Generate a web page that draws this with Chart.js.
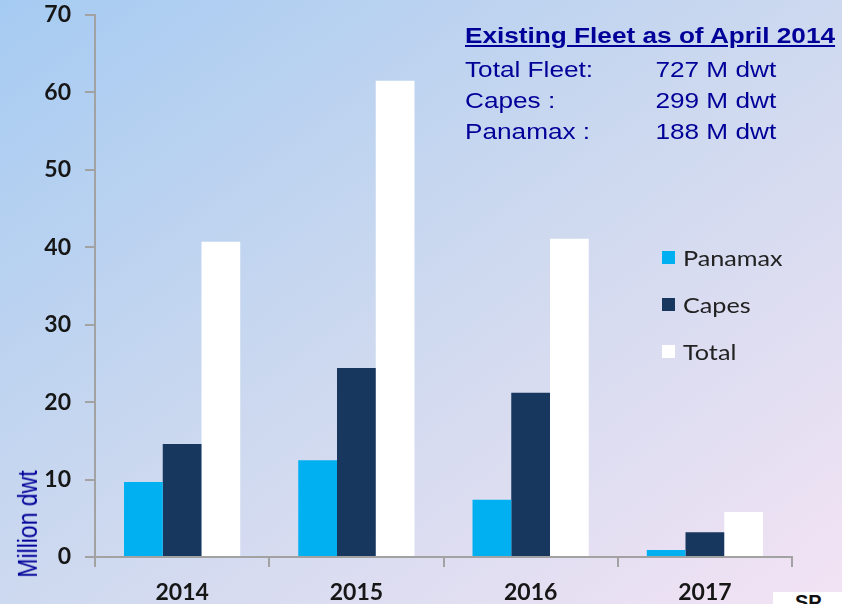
<!DOCTYPE html>
<html>
<head>
<meta charset="utf-8">
<script src="https://cdn.jsdelivr.net/npm/chart.js@4.4.1/dist/chart.umd.min.js"></script>
<style>
  html, body { margin: 0; padding: 0; }
  body {
    width: 842px; height: 604px; overflow: hidden; position: relative;
    background: linear-gradient(to bottom right, #a6cbf2 0%, #cdd9ef 50%, #f3e3f4 100%);
  }
  #wrap { position: absolute; left: 0; top: 0; width: 842px; height: 604px; }
  .note { position: absolute; left: 465px; transform: scaleX(1.19); transform-origin: 0 0;
          font-family: "Liberation Sans", Arial, sans-serif; font-size: 22px; line-height: 31px;
          color: #000099; white-space: nowrap; }
  .note .val { position: absolute; left: 160px; }
  #title { top: 20px; font-weight: bold; text-decoration: underline; }
  #ylabel { position: absolute; left: 28px; top: 524px; width: 0; height: 0; }
  #ylabel div { position: absolute; left: 0; top: 0; transform-origin: 0 0;
                transform: scaleX(1.19) rotate(-90deg) translate(-50%, -50%);
                font-family: "Liberation Sans", Arial, sans-serif; font-size: 23px;
                color: #000099; white-space: nowrap; }
  #legend { position: absolute; left: 662px; top: 234px; }
  #legend .item { height: 47px; display: flex; align-items: center;
                  font-family: Lato, sans-serif; font-size: 21px; color: #222; }
  #legend .box { width: 13px; height: 13px; margin-right: 8px; }
  #legend .txt { transform: scaleX(1.2); transform-origin: 0 50%; white-space: nowrap; }
  #sp { position: absolute; left: 773px; top: 592px; width: 69px; height: 12px; background: #fff;
        overflow: hidden; font-family: "Liberation Sans", Arial, sans-serif; font-weight: bold;
        font-size: 20px; line-height: 20px; color: #111; padding-left: 22px; box-sizing: border-box; }
</style>
</head>
<body>
<div id="wrap"><canvas id="fleet-chart"></canvas></div>

<div class="note" id="title">Existing Fleet as of April 2014</div>
<div class="note" style="top:54px">Total Fleet:<span class="val">727 M dwt</span></div>
<div class="note" style="top:85px">Capes :<span class="val">299 M dwt</span></div>
<div class="note" style="top:116px">Panamax :<span class="val">188 M dwt</span></div>

<div id="ylabel"><div>Million dwt</div></div>
<div id="legend"></div>
<div id="sp">SP</div>

<script>
// values (million dwt)
const years = ["2014", "2015", "2016", "2017"];
const panamax = [9.7, 12.5, 7.4, 0.9];
const capes = [14.6, 24.4, 21.2, 3.2];
const total = [40.7, 61.5, 41.1, 5.8];
const yMin = 0, yMax = 70, yStep = 10;

const axisColor = "#a2a2a2";

Chart.defaults.font.family = "Lato";

var chart = new Chart(document.getElementById("fleet-chart"), {
    type: "bar",
    data: {
        labels: years,
        datasets: [
            { label: "Panamax", data: panamax, backgroundColor: "#00b0f0" },
            { label: "Capes", data: capes, backgroundColor: "#17375e" },
            { label: "Total", data: total, backgroundColor: "#ffffff" },
        ]
    },
    options: {
        responsive: true,
        maintainAspectRatio: false,
        animation: false,
        categoryPercentage: 0.667,
        barPercentage: 1,
        layout: { padding: { top: 15, right: 50, bottom: 0, left: 0 } },
        plugins: {
            legend: { display: false },
            tooltip: { enabled: false },
        },
        scales: {
            x: {
                grid: { offset: true, drawOnChartArea: false, tickLength: 10, color: axisColor, lineWidth: 2 },
                border: { color: axisColor, width: 2 },
                ticks: { color: "#161616", font: { size: 23, weight: "bold" }, padding: 12 },
                afterFit(scale) {
                    scale.height = 47
                    scale.paddingLeft = 0
                    scale.paddingRight = 0
                },
            },
            y: {
                min: yMin, max: yMax,
                grid: { drawOnChartArea: false, tickLength: 10, color: axisColor, lineWidth: 2 },
                border: { color: axisColor, width: 2 },
                ticks: { stepSize: yStep, color: "#161616", font: { size: 23, weight: "bold" }, padding: 14 },
                afterFit(scale) {
                    scale.width = 95
                    // keep the end labels from pushing the plot area in
                    scale.paddingTop = 0
                    scale.paddingBottom = 0
                },
            }
        }
    }
});

// html legend built from the datasets
var legend = document.getElementById("legend");
chart.data.datasets.forEach(function (ds) {
    var item = document.createElement("div");
    item.className = "item";
    item.innerHTML = '<span class="box" style="background:' + ds.backgroundColor + '"></span>' +
                     '<span class="txt">' + ds.label + '</span>';
    legend.appendChild(item);
});
</script>
</body>
</html>
